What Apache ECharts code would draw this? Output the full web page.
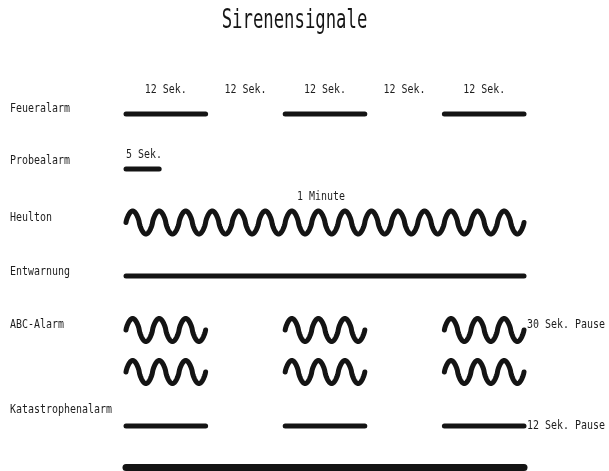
<!DOCTYPE html>
<html>
<head>
<meta charset="utf-8">
<script src="https://cdn.jsdelivr.net/npm/echarts@6/dist/echarts.min.js"></script>
<style>
  html, body { margin: 0; padding: 0; background: #ffffff; }
  #chart { width: 609px; height: 471px; }
</style>
</head>
<body>
<div id="chart"></div>
<script>
// ---------------- DATA ----------------
const chartTitle = 'Sirenensignale';
const signalNames = ['Feueralarm', 'Probealarm', 'Heulton', 'Entwarnung', 'ABC-Alarm', 'Katastrophenalarm'];
// Feueralarm: alternating on/off intervals in seconds (on, off, on, off, on)
const feueralarmIntervals = [12, 12, 12, 12, 12];
const probealarmSegments = [[0, 5]];
const heultonSegments = [[0, 60]];
const entwarnungSegments = [[0, 60]];
const abcAlarmSegments = [[0, 12], [24, 36], [48, 60]];
const katastrophenSegments = [[0, 12], [24, 36], [48, 60]];
const katastrophenDauerSegments = [[0, 60]];
const swellPeriodSec = 4;           // one rise/fall of the wail tone
const probeLabel = '5 Sek.';
const heultonLabel = '1 Minute';
const abcPauseLabel = '30 Sek. Pause';
const katPauseLabel = '12 Sek. Pause';

// derived Feueralarm segments + interval labels
const feueralarmSegments = [];
const feueralarmLabels = [];
(function () {
  let t = 0;
  feueralarmIntervals.forEach((d, i) => {
    if (i % 2 === 0) feueralarmSegments.push([t, t + d]);
    feueralarmLabels.push({ t: t + d / 2, text: d + ' Sek.' });
    t += d;
  });
})();

// ---------------- LAYOUT / STYLE ----------------
const INK = '#141414';
const TXT = '#1e1e1e';
const FONT = '"DejaVu Sans Mono", "Liberation Mono", monospace';
const lanes = { feuer: 114, probe: 169, heul: 222.5, entw: 276, abc1: 330, abc2: 372, kat: 426, kat2: 467.5 };
const labelY = [109, 161, 218, 272, 325, 410];
const waveAmp = 11.5;
const waveFullness = 0.75;

const rows = [
  { segs: feueralarmSegments, y: lanes.feuer, kind: 'line', w: 5 },
  { segs: probealarmSegments, y: lanes.probe, kind: 'line', w: 5 },
  { segs: heultonSegments, y: lanes.heul, kind: 'wave', w: 5 },
  { segs: entwarnungSegments, y: lanes.entw, kind: 'line', w: 5 },
  { segs: abcAlarmSegments, y: lanes.abc1, kind: 'wave', w: 5 },
  { segs: abcAlarmSegments, y: lanes.abc2, kind: 'wave', w: 5 },
  { segs: katastrophenSegments, y: lanes.kat, kind: 'line', w: 5 },
  { segs: katastrophenDauerSegments, y: lanes.kat2, kind: 'line', w: 7 }
];

const markData = [];
rows.forEach((r, ri) => r.segs.forEach(s => markData.push([s[0], s[1], ri, r.y])));

const annData = [];
feueralarmLabels.forEach(l => annData.push([l.t, 90, l.text, 'center', 0]));
annData.push([probealarmSegments[0][0], 155, probeLabel, 'left', 0]);
annData.push([(heultonSegments[0][0] + heultonSegments[0][1]) / 2, 197, heultonLabel, 'center', -4]);
annData.push([abcAlarmSegments[abcAlarmSegments.length - 1][1], 325, abcPauseLabel, 'left', 3]);
annData.push([katastrophenSegments[katastrophenSegments.length - 1][1], 426, katPauseLabel, 'left', 3]);

function smallText(x, y, text, align) {
  return {
    type: 'text', x: x, y: y, scaleX: 0.83,
    style: {
      text: text, font: '12px ' + FONT, fill: TXT,
      align: align, verticalAlign: 'middle',
      textAlign: align, textVerticalAlign: 'middle'
    }
  };
}

const chart = echarts.init(document.getElementById('chart'), null, { renderer: 'canvas' });
chart.setOption({
  backgroundColor: '#ffffff',
  animation: false,
  grid: { left: 126, width: 398, top: 0, height: 471 },
  xAxis: { type: 'value', min: 0, max: 60, show: false },
  yAxis: { type: 'value', min: 0, max: 471, inverse: true, show: false },
  graphic: [
    {
      type: 'text', x: 294.5, y: 21, scaleX: 0.64,
      style: {
        text: chartTitle, font: '27px ' + FONT, fill: '#151515',
        align: 'center', verticalAlign: 'middle',
        textAlign: 'center', textVerticalAlign: 'middle'
      }
    }
  ].concat(signalNames.map((n, i) => smallText(10, labelY[i], n, 'left'))),
  series: [
    {
      type: 'custom',
      data: markData,
      encode: { x: [0, 1], y: 3 },
      renderItem: function (params, api) {
        const s = api.value(0), e = api.value(1), r = rows[api.value(2)];
        if (r.kind === 'line') {
          const p0 = api.coord([s, r.y]), p1 = api.coord([e, r.y]);
          return {
            type: 'line',
            shape: { x1: p0[0], y1: p0[1], x2: p1[0], y2: p1[1] },
            style: { stroke: INK, lineWidth: r.w, lineCap: 'round' }
          };
        }
        const pts = [];
        const n = Math.round((e - s) / 0.05);
        for (let k = 0; k <= n; k++) {
          const t = s + (e - s) * k / n;
          const v = Math.sin(2 * Math.PI * (t - s) / swellPeriodSec);
          const f = Math.sign(v) * Math.pow(Math.abs(v), waveFullness);
          pts.push(api.coord([t, r.y - waveAmp * f]));
        }
        return {
          type: 'polyline',
          shape: { points: pts },
          style: { stroke: INK, lineWidth: r.w, fill: null, lineCap: 'round', lineJoin: 'round' }
        };
      }
    },
    {
      type: 'custom',
      data: annData,
      encode: { x: 0, y: 1 },
      renderItem: function (params, api) {
        const p = api.coord([api.value(0), api.value(1)]);
        const d = annData[params.dataIndex];
        return smallText(p[0] + d[4], p[1], d[2], d[3]);
      }
    }
  ]
});
</script>
</body>
</html>
